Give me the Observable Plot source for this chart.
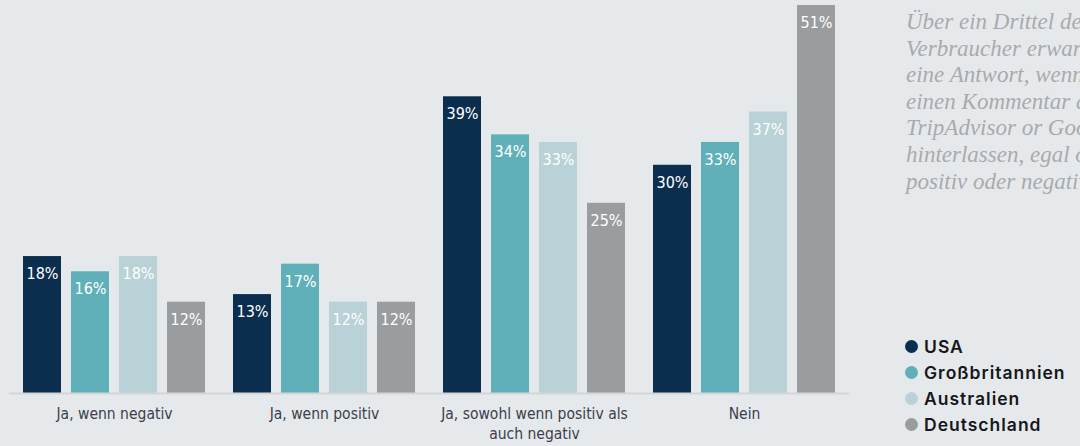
<!DOCTYPE html>
<html>
<head>
<meta charset="utf-8">
<script src="https://cdn.jsdelivr.net/npm/d3@7"></script>
<script src="https://cdn.jsdelivr.net/npm/@observablehq/plot@0.6"></script>
<style>
  html, body { margin: 0; padding: 0; background: #e6e9ec; overflow: hidden; }
  #wrap { position: relative; width: 1080px; height: 446px; overflow: hidden; background: #e6e9ec; }
  #chart { position: absolute; left: 0; top: 0; }
  #note { position: absolute; left: 906px; top: 9px; font-family: "Liberation Serif", serif; font-style: italic;
          font-size: 23px; line-height: 26.6px; color: #a8abae; white-space: nowrap; }
  #legend { position: absolute; left: 905px; top: 333px; font-family: Inter, "Noto Sans", sans-serif;
            font-weight: 600; font-size: 17.5px; letter-spacing: 1px; color: #15171a; }
  #legend .row { display: flex; align-items: center; height: 26px; }
  #legend .dot { width: 13px; height: 13px; border-radius: 50%; margin-right: 6px; }
</style>
</head>
<body>
<div id="wrap">
  <div id="chart"></div>
  <div id="note"></div>
  <div id="legend"></div>
</div>
<script>
const categories = ["Ja, wenn negativ", "Ja, wenn positiv", "Ja, sowohl wenn positiv als auch negativ", "Nein"];
const categoryLabels = ["Ja, wenn negativ", "Ja, wenn positiv", "Ja, sowohl wenn positiv als\nauch negativ", "Nein"];
const countries = ["USA", "Großbritannien", "Australien", "Deutschland"];
const colors = ["#0b2e4f", "#5fb0b8", "#b9d2d7", "#9a9d9f"];
const usa = [18, 13, 39, 30];
const gb = [16, 17, 34, 33];
const au = [18, 12, 33, 37];
const de = [12, 12, 25, 51];
const noteLines = ["Über ein Drittel der", "Verbraucher erwarten", "eine Antwort, wenn sie", "einen Kommentar auf", "TripAdvisor or Google", "hinterlassen, egal ob", "positiv oder negativ."];

const series = [usa, gb, au, de];
const data = [];
categories.forEach((c, i) => countries.forEach((k, j) => data.push({category: c, country: k, value: series[j][i]})));
const labelOf = new Map(categories.map((c, i) => [c, categoryLabels[i]]));

const chart = Plot.plot({
  width: 852,
  height: 446,
  marginLeft: 9,
  marginRight: 3,
  marginTop: 5,
  marginBottom: 53,
  style: {background: "transparent", fontFamily: "'DejaVu Sans Condensed', 'DejaVu Sans', sans-serif", fontStretch: "condensed"},
  fx: {domain: categories, paddingInner: 0.038, paddingOuter: 0.019, label: null},
  x: {domain: countries, padding: 0.208, axis: null},
  y: {domain: [0, d3.max(data, d => d.value)], axis: null},
  color: {domain: countries, range: colors},
  marks: [
    Plot.barY(data, {fx: "category", x: "country", y: "value", fill: "country"}),
    Plot.ruleY([0], {stroke: "#d3d6d9", strokeWidth: 2, insetLeft: -4, insetRight: -4}),
    Plot.text(data, {fx: "category", x: "country", y: "value", text: d => d.value + "%", fill: "white",
                     dy: 17.5, fontSize: 16}),
    Plot.axisFx({anchor: "bottom", tickSize: 0, tickPadding: 11, fontSize: 15.5, fill: "#3b404b",
                 tickFormat: d => labelOf.get(d), lineHeight: 1.3, label: null})
  ]
});
document.getElementById("chart").appendChild(chart);

document.getElementById("note").innerHTML = noteLines.join("<br>");
const legend = document.getElementById("legend");
countries.forEach((c, i) => {
  const row = document.createElement("div");
  row.className = "row";
  const dot = document.createElement("div");
  dot.className = "dot";
  dot.style.background = colors[i];
  const t = document.createElement("span");
  t.textContent = c;
  row.appendChild(dot); row.appendChild(t);
  legend.appendChild(row);
});
</script>
</body>
</html>
